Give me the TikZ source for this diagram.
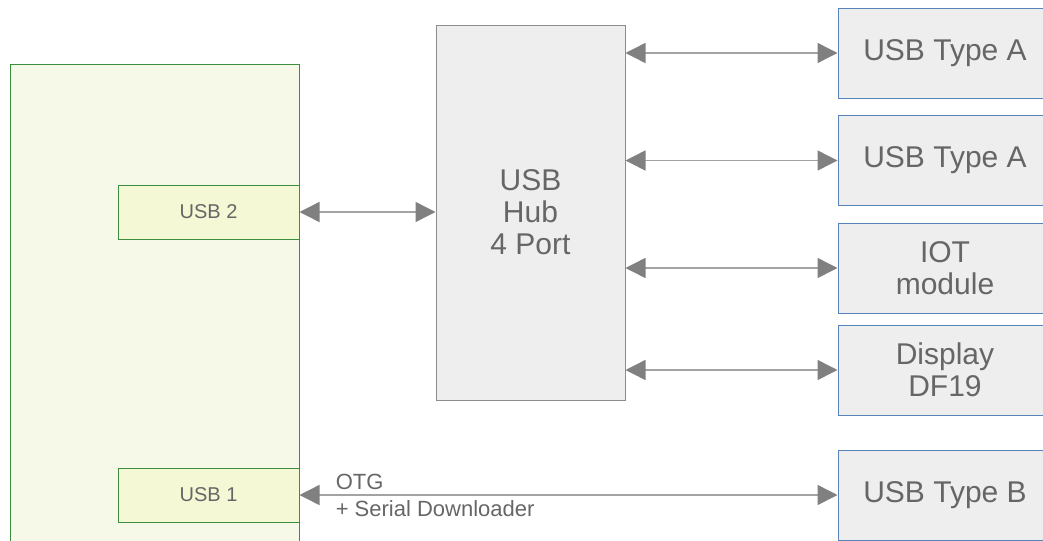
\documentclass[tikz,border=0pt]{standalone}
\usepackage{fontspec}
\setmainfont{Liberation Sans}
\usepackage{xcolor}
\usetikzlibrary{positioning,calc,arrows.meta}

\definecolor{txtgray}{HTML}{666666}
\definecolor{boardline}{HTML}{3A8F3E}
\definecolor{boardfill}{HTML}{F7F9E8}
\definecolor{portfill}{HTML}{F5F8D5}
\definecolor{hubline}{HTML}{8C8C8C}
\definecolor{boxfill}{HTML}{EEEEEE}
\definecolor{devline}{HTML}{5583BA}
\definecolor{linkgray}{HTML}{A3A3A3}
\definecolor{tipgray}{HTML}{808080}

\tikzset{
  board/.style={draw=boardline, fill=boardfill, line width=0.75pt,
    minimum width=216.75pt, minimum height=372pt, inner sep=0pt},
  port/.style={draw=boardline, fill=portfill, line width=0.75pt,
    minimum width=135.75pt, minimum height=40.5pt, inner sep=0pt,
    text=txtgray, font=\fontsize{15}{18}\selectfont},
  hubbox/.style={draw=hubline, fill=boxfill, line width=0.75pt,
    minimum width=141.75pt, minimum height=281.25pt, inner sep=0pt,
    text=txtgray, align=center, font=\fontsize{22.5}{24}\selectfont},
  dev/.style={draw=devline, fill=boxfill, line width=0.75pt,
    minimum width=160.5pt, minimum height=67.5pt, inner sep=0pt,
    text=txtgray, align=center, font=\fontsize{22.5}{24}\selectfont},
  link/.style={draw=linkgray, line width=1.1pt,
    {Triangle[length=15pt,width=15pt,fill=tipgray,color=tipgray]}-{Triangle[length=15pt,width=15pt,fill=tipgray,color=tipgray]}},
  note/.style={text=txtgray, inner sep=0pt, font=\fontsize{16.5}{19}\selectfont}
}

\begin{document}
\begin{tikzpicture}[x=0.75pt, y=-0.75pt]
    \useasboundingbox (0,0) rectangle (1043,540);
    \clip (0,0) rectangle (1043,540);

    % Board and its ports
    \node[board] (soc) at (154.5,312) {};
    \node[port] (usb2) at (208.5,212) {USB 2};
    \node[port] (usb1) at (208.5,495) {USB 1};

    % Hub
    \node[hubbox] (hub) at (530.5,212.5) {USB\\Hub\\4 Port};

    % Devices
    \node[dev] (typea1) at (945,53) {USB Type A};
    \node[dev] (typea2) at (945,160.5) {USB Type A};
    \node[dev] (iot) at (945,268) {IOT\\module};
    \node[dev] (disp) at (945,370) {Display\\DF19};
    \node[dev] (typeb) at (945,495) {USB Type B};

    % Board to hub
    \draw[link] (usb2.east) -- (hub.west |- usb2.east);

    % Hub to devices
    \draw[link] (hub.east |- typea1.west) -- (typea1.west);
    \draw[link] (hub.east |- typea2.west) -- (typea2.west);
    \draw[link] (hub.east |- iot.west) -- (iot.west);
    \draw[link] (hub.east |- disp.west) -- (disp.west);

    % OTG link
    \draw[link] (usb1.east) -- (typeb.west);
    \node[note, anchor=south west] (otg) at ($(usb1.east)+(36,-5)$) {OTG};
    \node[note, anchor=north west] (serdl) at ($(usb1.east)+(36,5)$) {+ Serial Downloader};
\end{tikzpicture}
\end{document}
